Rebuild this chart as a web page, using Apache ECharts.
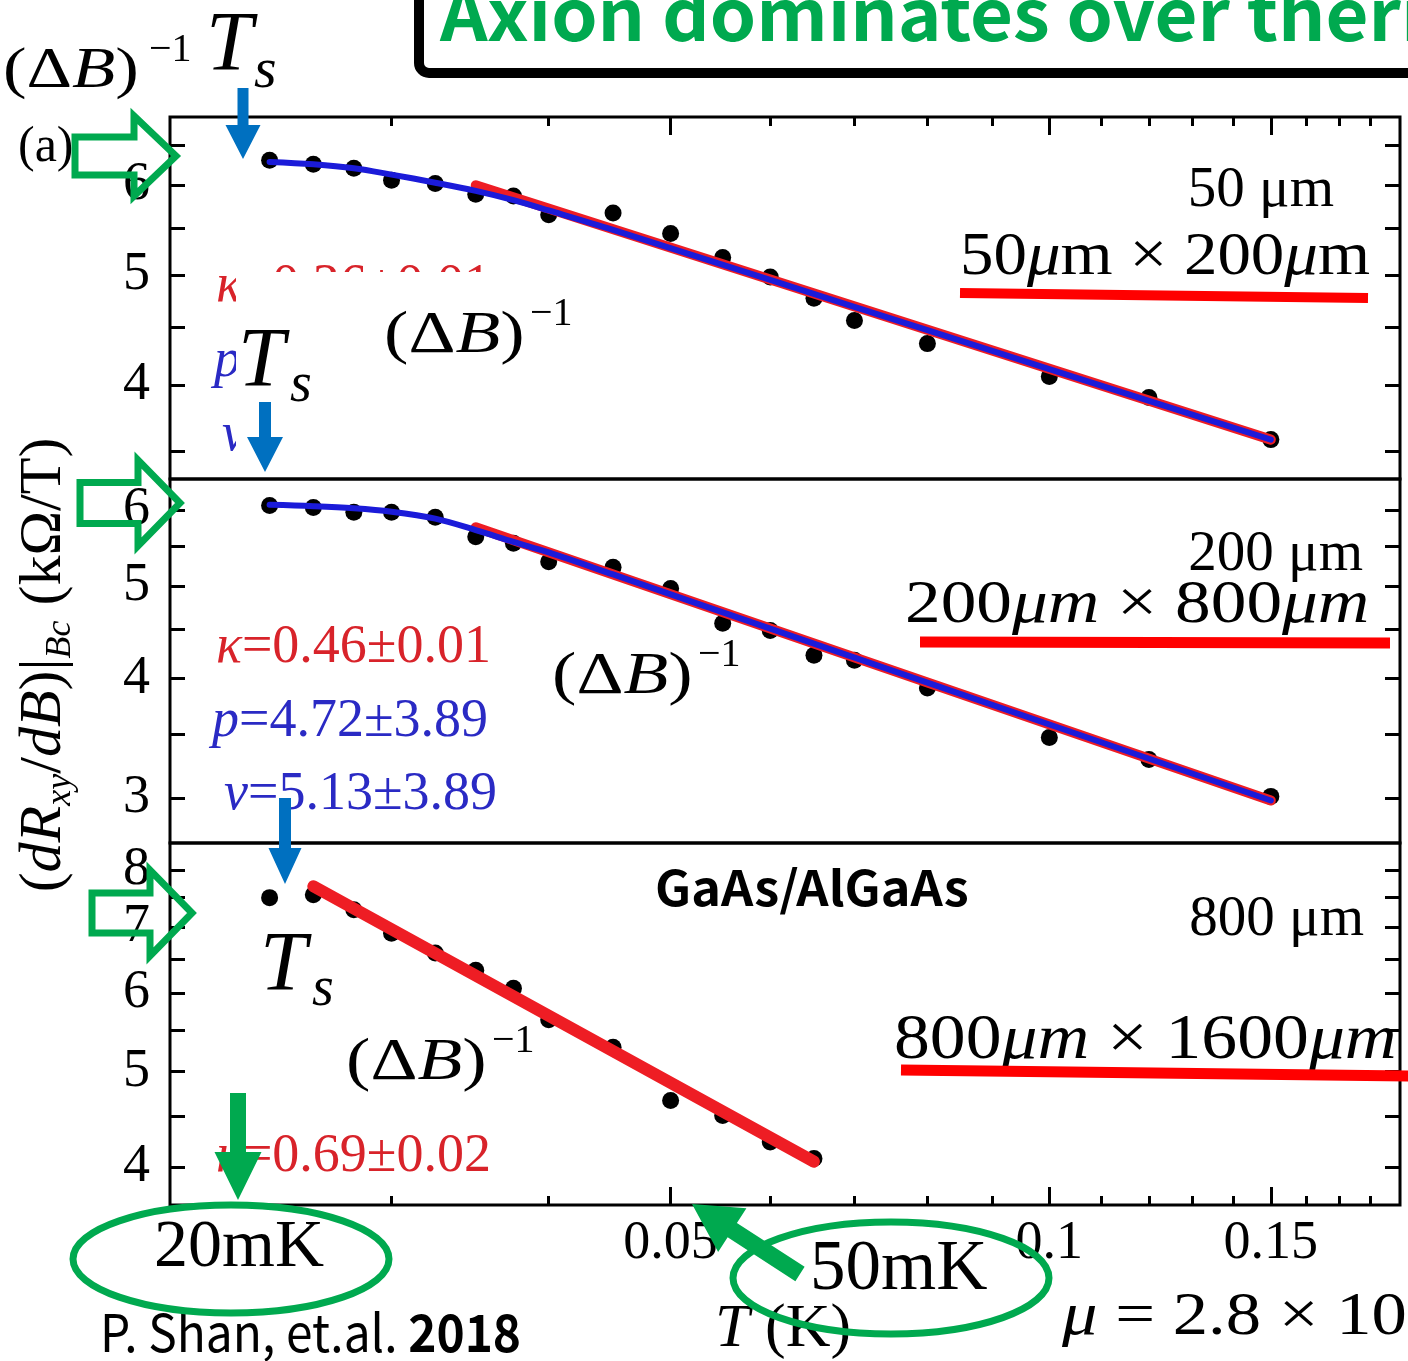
<!DOCTYPE html>
<html>
<head>
<meta charset="utf-8">
<script src="https://cdn.jsdelivr.net/npm/echarts@6/dist/echarts.min.js"></script>
<style>
  html, body { margin: 0; padding: 0; background: #fff; }
  #chart { width: 1408px; height: 1361px; }
</style>
</head>
<body>
<div id="chart"></div>
<script>
// ---- measured data: (dRxy/dB)|Bc in kOhm/T versus temperature T in K ----
const temperatures = [0.024, 0.026, 0.028, 0.030, 0.0325, 0.035, 0.0375, 0.040, 0.045,
                      0.050, 0.055, 0.060, 0.065, 0.070, 0.080, 0.100, 0.120, 0.150];
// 50 um sample
const slope50 = [6.31, 6.26, 6.21, 6.06, 6.02, 5.89, 5.87, 5.65, 5.67,
                 5.44, 5.18, 4.98, 4.77, 4.56, 4.35, 4.07, 3.90, 3.58];
// 200 um sample
const slope200 = [6.07, 6.04, 5.97, 5.97, 5.90, 5.63, 5.54, 5.30, 5.23,
                  4.97, 4.57, 4.49, 4.23, 4.18, 3.91, 3.47, 3.29, 3.01];
// 800 um sample (measured up to 65 mK)
const temperatures800 = [0.024, 0.026, 0.028, 0.030, 0.0325, 0.035, 0.0375, 0.040, 0.045,
                         0.050, 0.055, 0.060, 0.065];
const slope800 = [7.50, 7.55, 7.29, 6.90, 6.59, 6.33, 6.07, 5.64, 5.29, 4.67, 4.51, 4.24, 4.08];

// ---- fits, as [T, value] pairs ----
const powerFit50 = [[0.035, 6.00], [0.15, 3.58]];
const scalingFit50 = [[0.024, 6.29], [0.026, 6.26], [0.028, 6.21], [0.030, 6.13], [0.0325, 6.03],
                      [0.035, 5.93], [0.0375, 5.82], [0.040, 5.70], [0.045, 5.48], [0.060, 4.95],
                      [0.080, 4.47], [0.15, 3.58]];
const powerFit200 = [[0.035, 5.76], [0.15, 2.98]];
const scalingFit200 = [[0.024, 6.08], [0.026, 6.06], [0.028, 6.03], [0.030, 5.98], [0.0325, 5.88],
                       [0.035, 5.72], [0.0375, 5.56], [0.040, 5.42], [0.045, 5.14], [0.060, 4.51],
                       [0.080, 3.96], [0.15, 2.98]];
const powerFit800 = [[0.026, 7.70], [0.065, 4.05]];

// ---- axis ticks ----
const tMajorTicks = [0.05, 0.1, 0.15];
const tMinorTicks = [0.03, 0.04, 0.06, 0.07, 0.08, 0.09, 0.11, 0.12, 0.13, 0.14, 0.16, 0.17, 0.18];
const ticks50 = [3.5, 4, 4.5, 5, 5.5, 6, 6.5];
const labels50 = [4, 5, 6];
const ticks200 = [3, 3.5, 4, 4.5, 5, 5.5, 6];
const labels200 = [3, 4, 5, 6];
const ticks800 = [4, 4.5, 5, 5.5, 6, 6.5, 7, 7.5, 8];
const labels800 = [4, 5, 6, 7, 8];

const SERIF = '"Liberation Serif", "Times New Roman", serif';
const SANS = '"Noto Sans CJK JP", "Noto Sans", sans-serif';
const GREEN = '#00A94F';
const BLUE_ARROW = '#0070C0';
const FIT_RED = '#EE1D24';
const FIT_BLUE = '#1B1BD9';
const TXT_RED = '#D8232A';
const TXT_BLUE = '#2A2AC4';

const pairs = (xs, ys) => xs.map((x, i) => [x, ys[i]]);

const panels = [
  { top: 117, height: 362, min: 3.305, max: 6.89, ticks: ticks50, labels: labels50 },
  { top: 479, height: 364, min: 2.69, max: 6.47, ticks: ticks200, labels: labels200 },
  { top: 843, height: 362, min: 3.66, max: 8.52, ticks: ticks800, labels: labels800 }
];

const grid = panels.map(p => ({
  left: 170, width: 1230, top: p.top, height: p.height,
  show: true, borderColor: '#000', borderWidth: 3, backgroundColor: 'transparent'
}));

function tAxis(gridIndex, position, ticks, len, withLabels) {
  return {
    type: 'log', gridIndex, position, min: 0.02, max: 0.19,
    axisLine: { show: false },
    splitLine: { show: false },
    axisTick: ticks ? { show: true, inside: true, length: len, customValues: ticks,
                        lineStyle: { color: '#000', width: 3 } } : { show: false },
    axisLabel: withLabels ? {
      show: true, customValues: tMajorTicks, margin: 12,
      fontSize: 54, fontFamily: SERIF, color: '#000',
      formatter: v => String(+(+v).toPrecision(3))
    } : { show: false }
  };
}

const xAxis = [
  tAxis(0, 'top', tMajorTicks, 18, false),    // 0: top frame of the 50 um panel
  tAxis(0, 'top', tMinorTicks, 9, false),     // 1
  tAxis(1, 'bottom', null, 0, false),         // 2: 200 um panel
  tAxis(2, 'bottom', tMajorTicks, 18, true),  // 3: bottom frame with T labels
  tAxis(2, 'bottom', tMinorTicks, 9, false)   // 4
];

const yAxis = [];
panels.forEach((p, i) => {
  const common = {
    type: 'log', gridIndex: i, min: p.min, max: p.max,
    axisLine: { show: false }, splitLine: { show: false },
    axisTick: { show: true, inside: true, length: 15, customValues: p.ticks,
                lineStyle: { color: '#000', width: 3 } }
  };
  yAxis.push(Object.assign({}, common, {
    position: 'left',
    axisLabel: { show: true, customValues: p.labels, margin: 20, fontSize: 54,
                 fontFamily: SERIF, color: '#000', formatter: v => String(Math.round(v)) }
  }));
  yAxis.push(Object.assign({}, common, { position: 'right', axisLabel: { show: false } }));
});

function dots(xi, yi, data) {
  return { type: 'scatter', xAxisIndex: xi, yAxisIndex: yi, data, symbol: 'circle',
           symbolSize: 17, itemStyle: { color: '#000', opacity: 1 }, z: 2, silent: true };
}
function fit(xi, yi, data, color, width, smooth, z) {
  return { type: 'line', xAxisIndex: xi, yAxisIndex: yi, data, symbol: 'none', smooth,
           lineStyle: { color, width, cap: 'round' }, z, silent: true };
}

const series = [
  dots(0, 0, pairs(temperatures, slope50)),
  fit(0, 0, powerFit50, FIT_RED, 10, false, 3),
  fit(0, 0, scalingFit50, FIT_BLUE, 6, 0.35, 4),
  dots(2, 2, pairs(temperatures, slope200)),
  fit(2, 2, powerFit200, FIT_RED, 10, false, 3),
  fit(2, 2, scalingFit200, FIT_BLUE, 6, 0.35, 4),
  dots(3, 4, pairs(temperatures800, slope800)),
  fit(3, 4, powerFit800, FIT_RED, 12, false, 3)
];

// ---- annotation helpers ----
function txt(x, y, text, size, o = {}) {
  return {
    type: 'text', x, y, z: o.z ?? 20, scaleX: o.sx ?? 1, rotation: o.rot ?? 0,
    style: {
      text, fontSize: size, fontFamily: o.font ?? SERIF,
      fontStyle: o.italic ? 'italic' : 'normal', fontWeight: o.bold ? 'bold' : 'normal',
      fill: o.color ?? '#000', align: o.align ?? 'left', verticalAlign: 'middle',
      rich: o.rich
    }
  };
}
function arrowPoints(x0, y0, x1, y1, shaftW, headW, headL) {
  const dx = x1 - x0, dy = y1 - y0, L = Math.hypot(dx, dy);
  const ux = dx / L, uy = dy / L, px = -uy, py = ux;
  const bx = x1 - ux * headL, by = y1 - uy * headL;
  return [
    [x0 + px * shaftW / 2, y0 + py * shaftW / 2],
    [bx + px * shaftW / 2, by + py * shaftW / 2],
    [bx + px * headW / 2, by + py * headW / 2],
    [x1, y1],
    [bx - px * headW / 2, by - py * headW / 2],
    [bx - px * shaftW / 2, by - py * shaftW / 2],
    [x0 - px * shaftW / 2, y0 - py * shaftW / 2]
  ];
}
function solidArrow(x0, y0, x1, y1, sw, hw, hl, color) {
  return { type: 'polygon', z: 40, shape: { points: arrowPoints(x0, y0, x1, y1, sw, hw, hl) },
           style: { fill: color } };
}
function hollowArrow(x0, y, x1, sw, hw, hl) {
  return { type: 'polygon', z: 40, shape: { points: arrowPoints(x0, y, x1, y, sw, hw, hl) },
           style: { fill: 'none', stroke: GREEN, lineWidth: 7, lineJoin: 'miter' } };
}
function underline(x1, y1, x2, y2, w) {
  return { type: 'line', z: 20, shape: { x1, y1, x2, y2 }, style: { stroke: '#FF0000', lineWidth: w } };
}
function ring(cx, cy, rx, ry) {
  return { type: 'ellipse', z: 40, shape: { cx, cy, rx, ry },
           style: { fill: 'none', stroke: GREEN, lineWidth: 7 } };
}
const mathRich = (size) => ({
  r: { fontSize: size, fontFamily: SERIF },
  i: { fontSize: size, fontFamily: SERIF, fontStyle: 'italic' }
});
function paramLine(x, y, sym, rest, color) {
  const rich = {
    i: { fontSize: 54, fontFamily: SERIF, fontStyle: 'italic', fill: color },
    r: { fontSize: 54, fontFamily: SERIF, fill: color }
  };
  return txt(x, y, `{i|${sym}}{r|${rest}}`, 54, { rich, color, z: 10 });
}
// (ΔB)^-1 with an italic B
function inverseField(x, y, z, size = 60, supSize = 40) {
  return [
    txt(x, y, '{r|(Δ}{i|B}{r|)}', size, { sx: 1.22, z, rich: mathRich(size) }),
    txt(x + 146, y - 22, '−1', supSize, { z })
  ];
}
function tScale(x, y, z) {
  return [
    txt(x, y, 'T', 84, { italic: true, z }),
    txt(x + 52, y + 22, 's', 56, { italic: true, z })
  ];
}

const yLabelRich = {
  r: { fontSize: 60, fontFamily: SERIF, lineHeight: 70 },
  i: { fontSize: 60, fontFamily: SERIF, fontStyle: 'italic', lineHeight: 70 },
  s: { fontSize: 36, fontFamily: SERIF, fontStyle: 'italic', lineHeight: 36, verticalAlign: 'bottom' }
};

const graphic = [
  // headline box
  { type: 'rect', z: 30, shape: { x: 419, y: -60, width: 1100, height: 133, r: 10 },
    style: { fill: 'none', stroke: '#000', lineWidth: 10 } },
  txt(440, 14, 'Axion dominates over thermal', 72, { font: SANS, bold: true, color: GREEN, z: 30, sx: 1.03 }),

  // top-left scale label
  ...inverseField(3, 72, 20, 58, 40),
  txt(206, 48, 'T', 84, { italic: true, z: 20 }),
  txt(254, 72, 's', 58, { italic: true, z: 20 }),
  txt(18, 148, '(a)', 50, { z: 10 }),

  // fit parameters (50 um: mostly covered)
  paramLine(216, 287, 'κ', '=0.36±0.01', TXT_RED),
  txt(214, 362, 'p', 54, { italic: true, color: TXT_BLUE, z: 10 }),
  txt(222, 436, 'ν', 54, { italic: true, color: TXT_BLUE, z: 10 }),
  { type: 'rect', z: 15, shape: { x: 236, y: 272, width: 380, height: 204 }, style: { fill: '#fff' } },
  ...tScale(238, 364, 25),
  ...inverseField(384, 336, 25),

  // 200 um parameters
  paramLine(216, 648, 'κ', '=0.46±0.01', TXT_RED),
  paramLine(212, 722, 'p', '=4.72±3.89', TXT_BLUE),
  paramLine(224, 795, 'ν', '=5.13±3.89', TXT_BLUE),
  ...inverseField(552, 677, 25),

  // 800 um annotations
  paramLine(216, 1157, 'κ', '=0.69±0.02', TXT_RED),
  ...tScale(260, 968, 25),
  ...inverseField(346, 1063, 25),
  txt(655, 888, 'GaAs/AlGaAs', 48, { font: SANS, bold: true, z: 25, sx: 1.05 }),

  // sample sizes
  txt(1334, 191, '50 μm', 57, { align: 'right' }),
  txt(960, 258, '{r|50}{i|μ}{r|m × 200}{i|μ}{r|m}', 62, { rich: mathRich(62), sx: 1.08 }),
  underline(960, 293, 1368, 298, 10),
  txt(1363, 555, '200 μm', 57, { align: 'right' }),
  txt(905, 606, '{r|200}{i|μm}{r| × 800}{i|μm}', 62, { rich: mathRich(62), sx: 1.15 }),
  underline(920, 642, 1390, 643, 11),
  txt(1364, 920, '800 μm', 57, { align: 'right' }),
  txt(894, 1041, '{r|800}{i|μm}{r| × 1600}{i|μm}', 64, { rich: mathRich(64), sx: 1.12 }),
  underline(901, 1070, 1410, 1076, 11),

  // axis titles
  txt(44, 665, '{r|(}{i|dR}{s|xy}{r|/}{i|dB}{r|)|}{s|Bc}{r| (kΩ/T)}', 60,
      { rich: yLabelRich, rot: Math.PI / 2, align: 'center', z: 20 }),
  txt(715, 1330, '{i|T }{r|(K)}', 62, { rich: mathRich(62) }),
  txt(1062, 1318, '{i|μ}{r| = 2.8 × 10⁶}', 62, { rich: mathRich(62), sx: 1.14 }),

  // temperature call-outs
  txt(154, 1248, '20mK', 68),
  txt(810, 1270, '50mK', 71),
  ring(231, 1259, 158, 54),
  ring(891, 1278, 158, 56),
  solidArrow(238, 1093, 238, 1200, 16, 47, 48, GREEN),
  solidArrow(800, 1274, 692, 1204, 17, 52, 48, GREEN),

  // onset markers
  hollowArrow(75, 156, 176, 38, 80, 42),
  hollowArrow(80, 503, 180, 41, 86, 42),
  hollowArrow(92, 913, 192, 40, 86, 42),
  solidArrow(243, 88, 243, 159, 11, 35, 34, BLUE_ARROW),
  solidArrow(265, 402, 265, 472, 12, 36, 35, BLUE_ARROW),
  solidArrow(285, 798, 285, 884, 12, 33, 36, BLUE_ARROW),

  // reference
  txt(100, 1332, '{n|P. Shan, et.al. }{b|2018}', 52, {
    font: SANS, sx: 0.92, z: 20,
    rich: { n: { fontSize: 52, fontFamily: SANS }, b: { fontSize: 52, fontFamily: SANS, fontWeight: 'bold' } }
  })
];

const chart = echarts.init(document.getElementById('chart'), null, { renderer: 'canvas' });
chart.setOption({
  animation: false,
  backgroundColor: '#fff',
  grid, xAxis, yAxis, series, graphic
});
</script>
</body>
</html>
